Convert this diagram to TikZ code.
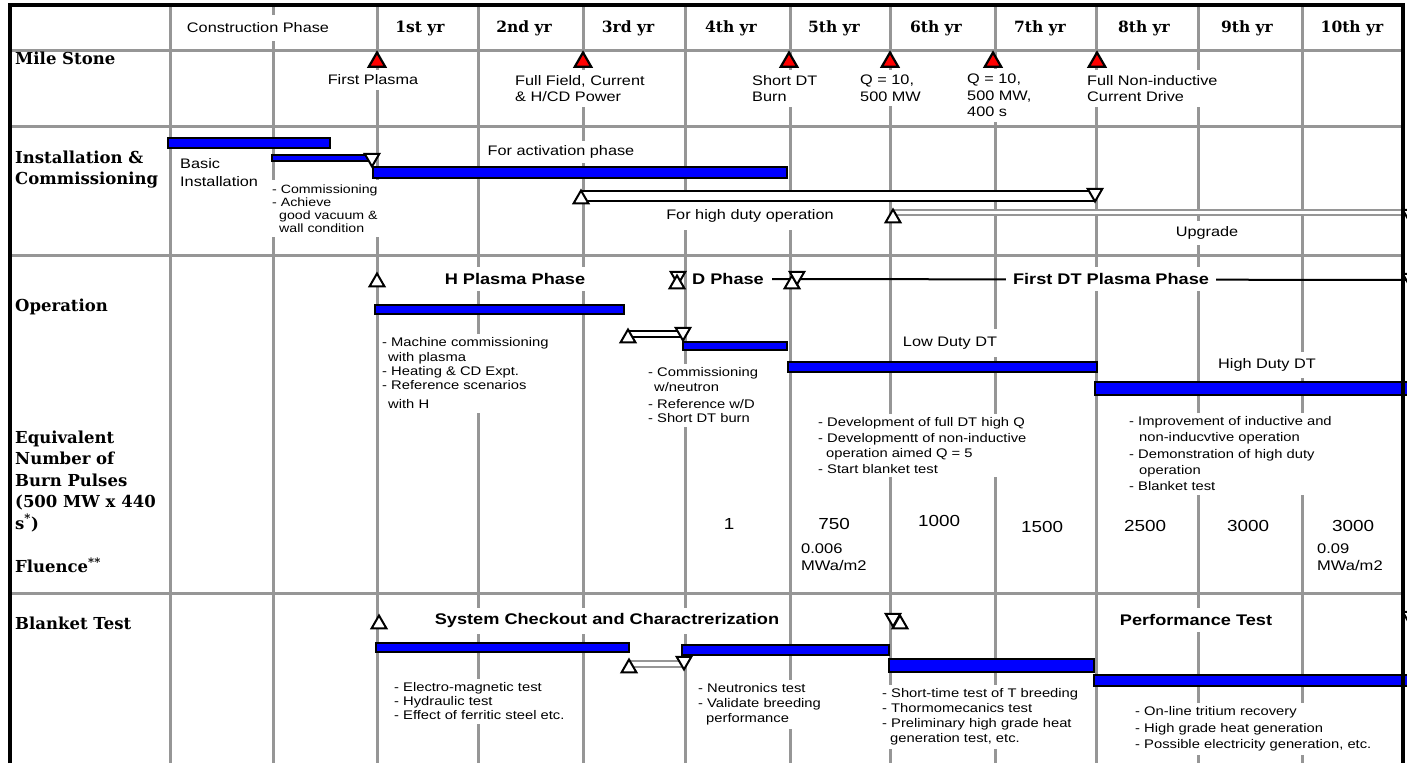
\documentclass[tikz,border=0pt]{standalone}
\usepackage{fontspec}
\setmainfont{Liberation Sans}[FakeStretch=1.18]
\newfontfamily\hdfont{DejaVu Serif}
\usepackage{tikz}
\usetikzlibrary{shapes.geometric}

\definecolor{gridgray}{RGB}{150,150,150}
\newcommand{\smtxt}{\fontsize{12.5}{14.3}\selectfont}
\newcommand{\mdtxt}{\fontsize{13.8}{16.5}\selectfont}
\newcommand{\bftxt}{\fontsize{15.4}{18}\selectfont\bfseries}
\newcommand{\numtxt}{\fontsize{16}{18}\selectfont}
\newcommand{\lbltxt}{\hdfont\bfseries\fontsize{16.5}{21.5}\selectfont}
\newcommand{\yrtxt}{\hdfont\bfseries\fontsize{15.5}{18}\selectfont}

\tikzset{
  gridline/.style={draw=gridgray, line width=3pt},
  frame/.style={draw=black, line width=3.5pt},
  bluebar/.style={draw=black, fill=blue, line width=1.8pt},
  openbar/.style={draw=black, fill=white, line width=1.6pt},
  graybar/.style={draw=gridgray, fill=white, line width=1.6pt},
  phaseline/.style={draw=black, line width=2pt},
  msred/.style={regular polygon, regular polygon sides=3, minimum size=19pt,
    inner sep=0pt, draw=black, fill=red, line width=2.2pt},
  tup/.style={regular polygon, regular polygon sides=3, minimum size=17pt,
    inner sep=0pt, draw=black, fill=white, line width=2pt},
  tdown/.style={tup, shape border rotate=180},
  txt/.style={fill=white, inner xsep=1pt, inner ysep=5pt, font=\mdtxt},
  blk/.style={fill=white, inner xsep=1pt, inner ysep=4pt, align=left,
    anchor=north west, font=\smtxt},
  lbl/.style={anchor=west, align=left, inner sep=0pt, font=\lbltxt},
  phase/.style={fill=white, inner xsep=2pt, inner ysep=6pt, font=\bftxt},
}

\begin{document}
\begin{tikzpicture}[x=1pt, y=-1pt]
    \useasboundingbox (0,0) rectangle (1407,763);

    % Lưới
    \foreach \x in {170,273,377,478,583,685,790,890,995,1096,1198,1302}
        \draw[gridline] (\x,5) -- (\x,763);
    \foreach \y in {50,126,255,593}
        \draw[gridline] (10,\y) -- (1403,\y);

    % Đường pha D / DT
    \coordinate (dEnd) at (1412,280);
    \node[phase, inner ysep=2pt] (dph) at (728,279) {D Phase};
    \draw[phaseline] ([xshift=6pt]dph.east) -- (dEnd);

    % Hàng tiêu đề
    \node[txt, inner ysep=8pt] (hdr) at (258,28) {Construction Phase};
    \foreach \x/\t [count=\i] in {420/1st yr, 524/2nd yr, 628/3rd yr, 731/4th yr,
        834/5th yr, 936/6th yr, 1040/7th yr, 1144/8th yr, 1247/9th yr, 1352/10th yr}
        \node[font=\yrtxt] (yr\i) at (\x,28) {\t};

    % Nhãn cột trái
    \node[lbl] (lMile) at (15,58) {Mile Stone};
    \node[lbl, anchor=north west] (lInst) at (15,150.5) {Installation \&\\Commissioning};
    \node[lbl] (lOper) at (15,307) {Operation};
    \node[lbl, anchor=north west] (lEqv) at (15,430.5)
        {Equivalent\\Number of\\Burn Pulses\\(500 MW x 440\\s\textsuperscript{*})};
    \node[lbl] (lFlu) at (15,565) {Fluence\textsuperscript{**}};
    \node[lbl] (lBlk) at (15,623) {Blanket Test};

    % Mốc
    \node[txt] (ml1) at (373,80) {First Plasma};
    \node[txt, align=left, anchor=north west] (ml2) at (514,70) {Full Field, Current\\\& H/CD Power};
    \node[txt, align=left, anchor=north west] (ml3) at (751,70) {Short DT\\Burn};
    \node[txt, align=left, anchor=north west] (ml4) at (859,70) {Q = 10,\\500 MW};
    \node[txt, align=left, anchor=north west] (ml5) at (966,69) {Q = 10,\\500 MW,\\400 s};
    \node[txt, align=left, anchor=north west] (ml6) at (1086,70) {Full Non-inductive\\Current Drive};
    \foreach \x [count=\i] in {377,583,789,890,993,1097}
        \node[msred] (ms\i) at (\x,62) {};

    % Lắp đặt và chạy thử
    \node[txt, align=left, anchor=north west, inner ysep=2pt] (basic) at (179,156)
        {Basic\\[1.5pt]Installation};
    \node[txt] (actv) at (561,152) {For activation phase};
    \node[blk, font=\fontsize{12}{12.8}\selectfont, inner ysep=5pt] (comm) at (271,180)
        {- Commissioning\\- Achieve\\\hspace*{7pt}good vacuum \&\\\hspace*{7pt}wall condition};
    \node[txt, inner ysep=8pt] (hduty) at (750,216) {For high duty operation};
    \node[txt, inner ysep=6pt] (upg) at (1207,233) {Upgrade};

    \draw[bluebar] (168,138) rectangle (330,148);
    \draw[bluebar] (272,155) rectangle (372,161);
    \draw[bluebar] (373,167) rectangle (787,178);
    \draw[openbar] (581,191) rectangle (1095,201);
    \draw[graybar] (893,210) rectangle (1412,215);
    \node[tdown] (iT1) at (372,158) {};
    \node[tup] (iT2) at (581,199) {};
    \node[tdown] (iT3) at (1095,193) {};
    \node[tup] (iT4) at (893,218) {};
    \node[tdown] (iT5) at (1410,214) {};

    % Vận hành
    \node[phase] (hph) at (515,279) {H Plasma Phase};
    \node[phase, inner xsep=7pt] (dtph) at (1111,279) {First DT Plasma Phase};
    \node[txt, inner ysep=8pt] (lowdt) at (950,343) {Low Duty DT};
    \node[txt, inner ysep=7pt] (highdt) at (1267,365) {High Duty DT};
    \node[blk] (opH) at (381,333.5) {- Machine commissioning\\\hspace*{6pt}with plasma\\- Heating \& CD Expt.\\- Reference scenarios\\[5pt]\hspace*{6pt}with H};
    \node[blk] (opD) at (647,363.5) {- Commissioning\\\hspace*{6pt}w/neutron\\[3pt]- Reference w/D\\- Short DT burn};
    \node[blk, font=\fontsize{12.5}{15.5}\selectfont] (opL) at (817,413.5) {- Development of full DT high Q\\- Developmentt of non-inductive\\\hspace*{8pt}operation aimed Q = 5\\- Start blanket test};
    \node[blk, font=\fontsize{12.5}{16.2}\selectfont] (opHi) at (1128,412.5) {- Improvement of inductive and\\\hspace*{10pt}non-inducvtive operation\\- Demonstration of high duty\\\hspace*{10pt}operation\\- Blanket test};

    \draw[bluebar] (375,305) rectangle (624,314);
    \draw[openbar] (628,331) rectangle (683,337);
    \draw[bluebar] (683,342) rectangle (787,350);
    \draw[bluebar] (788,362) rectangle (1097,372);
    \draw[bluebar] (1095,382) rectangle (1412,395);
    \node[tup] (oT1) at (377,282) {};
    \node[tdown] (oT2) at (678,276) {};
    \node[tup] (oT3) at (677,284) {};
    \node[tup] (oT4) at (792,284) {};
    \node[tdown] (oT5) at (797,276) {};
    \node[tdown] (oT6) at (1410,278) {};
    \node[tup] (oT7) at (628,338) {};
    \node[tdown] (oT8) at (683,332) {};

    % Số xung và thông lượng
    \foreach \x/\y/\v [count=\i] in {729/524/1, 834/524/750, 939/521/1000, 1042/527/1500,
        1145/526/2500, 1248/526/3000, 1353/526/3000}
        \node[font=\numtxt] (n\i) at (\x,\y) {\v};
    \node[blk, font=\fontsize{14}{17}\selectfont, inner ysep=1pt] (fl1) at (800,543) {0.006\\MWa/m2};
    \node[blk, font=\fontsize{14}{17}\selectfont, inner ysep=1pt] (fl2) at (1316,543) {0.09\\MWa/m2};

    % Thử nghiệm blanket
    \node[phase] (sysc) at (607,621) {System Checkout and Charactrerization};
    \node[phase] (perf) at (1196,620) {Performance Test};
    \node[blk, font=\fontsize{12.5}{14}\selectfont] (bE) at (393,678.5) {- Electro-magnetic test\\- Hydraulic test\\- Effect of ferritic steel etc.};
    \node[blk, font=\fontsize{12.5}{15}\selectfont] (bN) at (697,679.5) {- Neutronics test\\- Validate breeding\\\hspace*{8pt}performance};
    \node[blk, font=\fontsize{12.5}{15}\selectfont] (bS) at (881,684.5) {- Short-time test of T breeding\\- Thormomecanics test\\- Preliminary high grade heat\\\hspace*{8pt}generation test, etc.};
    \node[blk, font=\fontsize{12.5}{16.5}\selectfont] (bO) at (1134,702.5) {- On-line tritium recovery\\- High grade heat generation\\- Possible electricity generation, etc.};

    \draw[bluebar] (376,643) rectangle (629,652);
    \draw[bluebar] (682,645) rectangle (889,655);
    \draw[bluebar] (889,659) rectangle (1094,672);
    \draw[bluebar] (1094,675) rectangle (1412,686);
    \draw[graybar] (629,661) rectangle (682,667);
    \node[tup] (bT1) at (379,624) {};
    \node[tdown] (bT2) at (893,618) {};
    \node[tup] (bT3) at (900,624) {};
    \node[tdown] (bT4) at (1410,616) {};
    \node[tup] (bT5) at (629,668) {};
    \node[tdown] (bT6) at (684,661) {};

    % Khung
    \draw[frame] (10,763) -- (10,5) -- (1403,5) -- (1403,763);
\end{tikzpicture}
\end{document}
